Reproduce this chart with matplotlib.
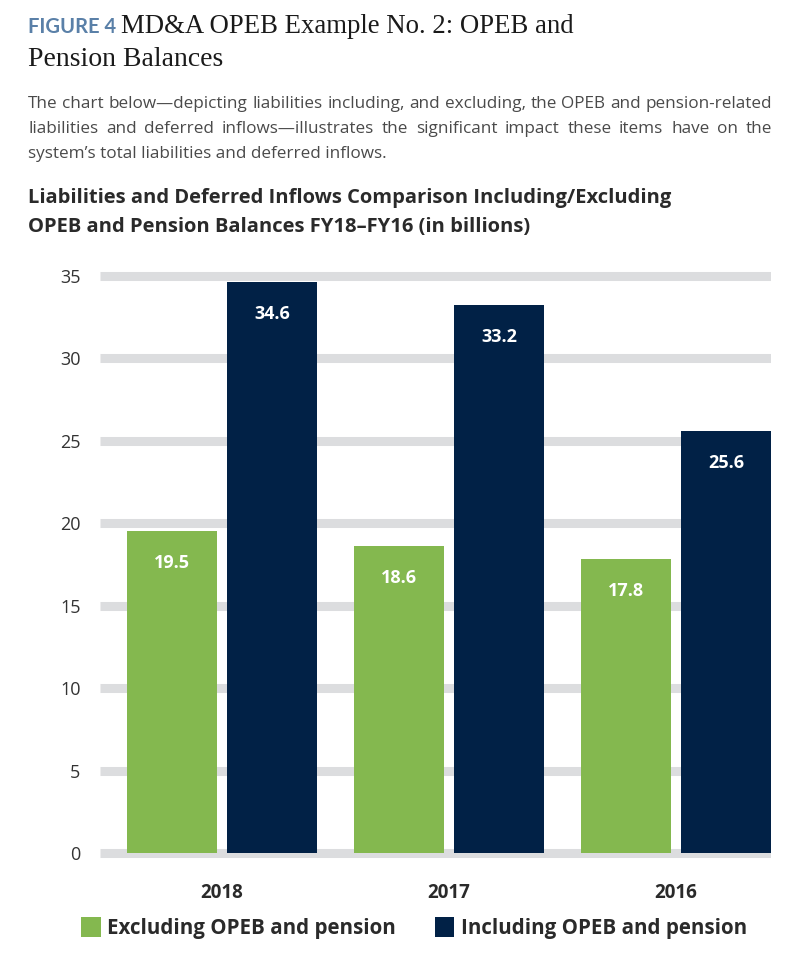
import matplotlib
matplotlib.use("Agg")
import matplotlib.pyplot as plt
import numpy as np

# ---- data ----
years = ["2018", "2017", "2016"]
excluding = [19.5, 18.6, 17.8]
including = [34.6, 33.2, 25.6]
series_names = ["Excluding OPEB and pension", "Including OPEB and pension"]
yticks = [0, 5, 10, 15, 20, 25, 30, 35]

GREEN = "#84b84f"
NAVY = "#012146"
GRID = "#dcdddf"
DARK = "#2a2a2a"
BODY = "#4a4a4a"
FIGBLUE = "#5a80a8"

W, H = 800, 980
fig = plt.figure(figsize=(W / 100, H / 100), dpi=100)
fig.patch.set_facecolor("white")


def fy(py):
    return 1 - py / H


def fx(px):
    return px / W


SANS = ["Open Sans", "DejaVu Sans"]
SERIF = ["Liberation Serif", "DejaVu Serif"]

# ---- axes ----
px_per = 16.5
y0px = 853
ax_bot_px, ax_top_px = 862, 262
ylo = (y0px - ax_bot_px) / px_per
yhi = (y0px - ax_top_px) / px_per
ax_left_px, ax_right_px = 100, 771
ax = fig.add_axes([fx(ax_left_px), fy(ax_bot_px), fx(ax_right_px - ax_left_px),
                   (ax_bot_px - ax_top_px) / H])
group_px = 227.0
bw = 90 / group_px
off = 50 / group_px
x = np.arange(len(years))
ax.set_xlim((ax_left_px - 222) / group_px, (ax_right_px - 222) / group_px)
ax.set_ylim(ylo, yhi)

for t in yticks:
    ax.axhline(t, color=GRID, lw=6.5, zorder=0, solid_capstyle="butt")

b1 = ax.bar(x - off, excluding, width=bw, color=GREEN, zorder=2, label=series_names[0])
b2 = ax.bar(x + off, including, width=bw, color=NAVY, zorder=2, label=series_names[1])

for bars, vals in ((b1, excluding), (b2, including)):
    for r, v in zip(bars, vals):
        ax.annotate(f"{v:.1f}", (r.get_x() + r.get_width() / 2, v),
                    xytext=(0, -32), textcoords="offset pixels",
                    ha="center", va="center", color="white",
                    fontsize=13, fontweight="bold", family=SANS, zorder=3)

for s in ax.spines.values():
    s.set_visible(False)
ax.set_yticks(yticks)
ax.set_yticklabels([str(t) for t in yticks], family=SANS, fontsize=13, color="#333333")
ax.tick_params(axis="y", length=0, pad=14)
ax.set_xticks(x)
ax.set_xticklabels(years, family=SANS, fontsize=13.5, fontweight="bold", color=DARK)
ax.tick_params(axis="x", length=0, pad=15)

# ---- legend ----
leg = fig.legend(handles=[b1, b2], labels=series_names, loc="center",
                 bbox_to_anchor=(fx(414), fy(928)), ncol=2, frameon=False,
                 prop={"family": SANS, "weight": "bold", "size": 14.8},
                 handlelength=0.95, handleheight=1.15, handletextpad=0.3,
                 columnspacing=1.9)
for txt in leg.get_texts():
    txt.set_color(DARK)

# ---- header texts ----
renderer = fig.canvas.get_renderer()

t_fig = fig.text(fx(28), fy(33), "FIGURE 4", family=["Lato", "DejaVu Sans"], fontweight="bold",
                 fontsize=14.5, color=FIGBLUE, va="baseline", ha="left")
ext = t_fig.get_window_extent(renderer)
fig.text(fx(ext.x1 + 5), fy(33), "MD&A OPEB Example No. 2: OPEB and", family=SERIF,
         fontsize=19.3, color="#1a1a1a", va="baseline", ha="left")
fig.text(fx(28), fy(66), "Pension Balances", family=SERIF,
         fontsize=20, color="#1a1a1a", va="baseline", ha="left")

body_lines = [
    "The chart below\u2014depicting liabilities including, and excluding, the OPEB and pension-related",
    "liabilities and deferred inflows\u2014illustrates the significant impact these items have on the",
    "system\u2019s total liabilities and deferred inflows.",
]
body_y = [108, 133, 158]
body_kw = dict(family=SANS, fontsize=12.3, color=BODY, va="baseline", ha="left")


def justify(line, x0, x1, ypx, **kw):
    words = line.split(" ")
    texts = [fig.text(0, fy(ypx), w, **kw) for w in words]
    widths = [t.get_window_extent(renderer).width for t in texts]
    gap = (x1 - x0 - sum(widths)) / (len(words) - 1)
    cx = x0
    for t, w in zip(texts, widths):
        t.set_x(fx(cx))
        cx += w + gap


justify(body_lines[0], 28, 772, body_y[0], **body_kw)
justify(body_lines[1], 28, 772, body_y[1], **body_kw)
fig.text(fx(28), fy(body_y[2]), body_lines[2], **body_kw)

sub_kw = dict(family=SANS, fontsize=14.5, fontweight="bold", color=DARK,
              va="baseline", ha="left")
fig.text(fx(28), fy(203), "Liabilities and Deferred Inflows Comparison Including/Excluding", **sub_kw)
fig.text(fx(28), fy(232), "OPEB and Pension Balances FY18\u2013FY16 (in billions)", **sub_kw)

fig.savefig("out.png", dpi=100, facecolor="white")
